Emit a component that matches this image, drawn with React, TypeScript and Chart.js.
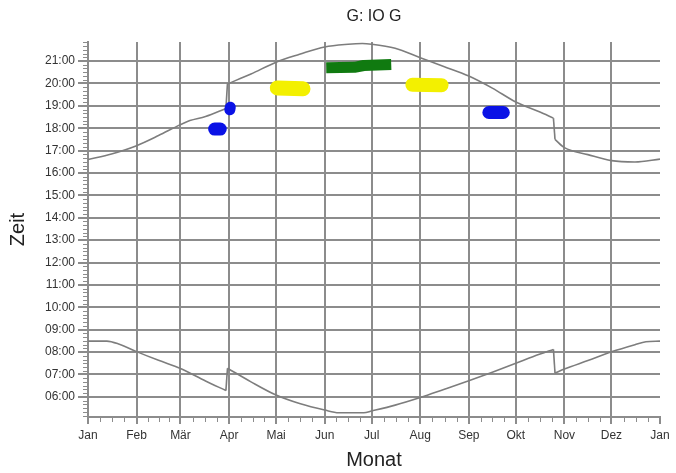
import React, { useEffect, useRef } from "react";
import { Chart, registerables } from "chart.js";

Chart.register(...registerables);

const monthLabels = ["Jan", "Feb", "Mär", "Apr", "Mai", "Jun", "Jul", "Aug", "Sep", "Okt", "Nov", "Dez", "Jan"];
const monthStartDays = [0, 31, 59, 90, 120, 151, 181, 212, 243, 273, 304, 334, 365];
const yTickHours = [6, 7, 8, 9, 10, 11, 12, 13, 14, 15, 16, 17, 18, 19, 20, 21];

// Clock changes (day of year just before / just after the jump)
const dstStartDays = [88, 89];
const dstEndDays = [297, 298];

// Sunset (upper curve)
const sunsetDays = [0, 15, 31, 45, 59, 65, 75, 88, 89, 104, 120, 135, 151, 166, 175, 181, 196, 212, 227, 243, 258, 273, 288, 297, 298, 304, 319, 334, 349, 365];
const sunsetHours = [16.6, 16.85, 17.22, 17.67, 18.16, 18.34, 18.52, 18.88, 19.98, 20.42, 20.95, 21.3, 21.63, 21.75, 21.78, 21.75, 21.57, 21.15, 20.76, 20.33, 19.79, 19.17, 18.73, 18.45, 17.5, 17.13, 16.82, 16.55, 16.49, 16.62];

// Sunrise (lower curve)
const sunriseDays = [0, 12, 20, 31, 45, 59, 75, 88, 89, 104, 120, 135, 151, 160, 176, 181, 196, 212, 227, 243, 258, 273, 288, 297, 298, 304, 319, 334, 349, 356, 365];
const sunriseHours = [8.49, 8.49, 8.35, 8.02, 7.63, 7.27, 6.71, 6.28, 7.28, 6.67, 6.08, 5.7, 5.41, 5.29, 5.29, 5.37, 5.63, 5.97, 6.33, 6.72, 7.1, 7.5, 7.9, 8.12, 7.06, 7.24, 7.62, 8.01, 8.33, 8.46, 8.49];

// Observation marks
const blueMarchDays = [80.8, 84.4];
const blueMarchHours = [17.96, 17.96];
const blueAprilDays = [90.5, 90.8];
const blueAprilHours = [18.82, 18.94];
const yellowMayDays = [120.8, 137.2];
const yellowMayHours = [19.8, 19.76];
const greenJuneDays = [152, 170, 176, 193.5];
const greenJuneHours = [20.7, 20.72, 20.8, 20.84];
const yellowAugDays = [207, 225.6];
const yellowAugHours = [19.94, 19.92];
const blueSepDays = [255.8, 265];
const blueSepHours = [18.7, 18.7];

const Y_MIN = 5.1;
const Y_MAX = 21.85;
const GRID = "#8c8c8c";
const CURVE = "#7d7d7d";
const FONT = "'Liberation Sans', Arial, sans-serif";

const pts = (xs: number[], ys: number[]) => xs.map((x, i) => ({ x, y: ys[i] }));

const minorTicks = {
  id: "minorTicks",
  afterDraw(chart: any) {
    const { ctx, chartArea } = chart;
    const x = chart.scales.x;
    const y = chart.scales.y;
    ctx.save();
    ctx.strokeStyle = GRID;
    ctx.lineWidth = 1;
    ctx.beginPath();
    for (let m = Math.ceil(Y_MIN * 6); m <= Math.floor(Y_MAX * 6); m++) {
      if (m % 6 === 0) continue;
      const py = Math.round(y.getPixelForValue(m / 6)) + 0.5;
      ctx.moveTo(chartArea.left - 5, py);
      ctx.lineTo(chartArea.left, py);
    }
    for (let i = 0; i < monthStartDays.length - 1; i++) {
      const a = monthStartDays[i];
      const b = monthStartDays[i + 1];
      for (let k = 1; k < 4; k++) {
        const d = a + ((b - a) * k) / 4;
        const px = Math.round(x.getPixelForValue(d)) + 0.5;
        ctx.moveTo(px, chartArea.bottom);
        ctx.lineTo(px, chartArea.bottom + 5);
      }
    }
    ctx.stroke();
    ctx.restore();
  },
};

const mark = (xs: number[], ys: number[], color: string, width: number, cap: CanvasLineCap = "round") => ({
  data: pts(xs, ys),
  borderColor: color,
  backgroundColor: color,
  borderWidth: width,
  borderCapStyle: cap,
  borderJoinStyle: "round" as CanvasLineJoin,
  pointRadius: 0,
  tension: 0,
  fill: false,
});

// Split a curve at the clock changes into smooth pieces joined by straight jumps
const curvePieces = (days: number[], hours: number[]) => {
  const all = pts(days, hours);
  const cuts = [dstStartDays[0], dstStartDays[1], dstEndDays[0], dstEndDays[1]].map((d) => days.indexOf(d));
  const bounds = [0, ...cuts, days.length - 1];
  const out: any[] = [];
  for (let i = 0; i < bounds.length - 1; i++) {
    const piece = all.slice(bounds[i], bounds[i + 1] + 1);
    const isJump = i % 2 === 1;
    out.push({
      data: piece,
      borderColor: CURVE,
      borderWidth: 1.6,
      pointRadius: 0,
      tension: 0,
      cubicInterpolationMode: isJump ? "default" : "monotone",
      borderJoinStyle: "round",
      fill: false,
    });
  }
  return out;
};

export default function App() {
  const ref = useRef<HTMLCanvasElement | null>(null);

  useEffect(() => {
    document.body.style.margin = "0";
    const canvas = ref.current;
    if (!canvas) return;
    const chart = new Chart(canvas, {
      type: "line",
      data: {
        datasets: [
          mark(blueMarchDays, blueMarchHours, "#0a12e6", 13),
          mark(blueAprilDays, blueAprilHours, "#0a12e6", 11),
          mark(yellowMayDays, yellowMayHours, "#f3f000", 15),
          mark(greenJuneDays, greenJuneHours, "#107a10", 11, "butt"),
          mark(yellowAugDays, yellowAugHours, "#f3f000", 14),
          mark(blueSepDays, blueSepHours, "#0a12e6", 13),
          ...curvePieces(sunsetDays, sunsetHours),
          ...curvePieces(sunriseDays, sunriseHours),
        ] as any,
      },
      options: {
        animation: false,
        responsive: false,
        maintainAspectRatio: false,
        layout: { padding: { left: 0, right: 16, top: 0, bottom: 0 } },
        plugins: {
          legend: { display: false },
          tooltip: { enabled: false },
          title: {
            display: true,
            text: "G: IO G",
            fullSize: false,
            color: "#222",
            font: { family: FONT, size: 16, weight: "normal" },
            padding: { top: 7, bottom: 15.8 },
          },
        },
        scales: {
          x: {
            type: "linear",
            min: 0,
            max: 365,
            afterBuildTicks: (scale: any) => {
              scale.ticks = monthStartDays.map((v) => ({ value: v }));
            },
            afterFit: (scale: any) => {
              scale.height = 56;
            },
            ticks: {
              autoSkip: false,
              maxRotation: 0,
              padding: 4,
              color: "#333",
              font: { family: FONT, size: 12 },
              callback: (_v: any, i: number) => monthLabels[i],
            },
            grid: {
              color: (c: any) => (c.index === monthStartDays.length - 1 ? "rgba(0,0,0,0)" : GRID),
              tickColor: GRID,
              lineWidth: 2,
              tickLength: 7,
              drawTicks: true,
            },
            border: { display: true, color: GRID, width: 2 },
            title: {
              display: true,
              text: "Monat",
              color: "#222",
              font: { family: FONT, size: 20 },
              padding: { top: 0, bottom: 1 },
            },
          },
          y: {
            type: "linear",
            min: Y_MIN,
            max: Y_MAX,
            afterBuildTicks: (scale: any) => {
              scale.ticks = yTickHours.map((v) => ({ value: v }));
            },
            afterFit: (scale: any) => {
              scale.width = 88;
            },
            ticks: {
              autoSkip: false,
              padding: 3,
              color: "#333",
              font: { family: FONT, size: 12 },
              callback: (v: any) => `${String(v).padStart(2, "0")}:00`,
            },
            grid: {
              color: GRID,
              tickColor: GRID,
              lineWidth: 2,
              tickLength: 10,
            },
            border: { display: true, color: GRID, width: 2 },
            title: {
              display: true,
              text: "Zeit",
              color: "#222",
              font: { family: FONT, size: 20 },
              padding: { top: 6, bottom: 0 },
            },
          },
        },
      },
      plugins: [minorTicks],
    });
    return () => chart.destroy();
  }, []);

  return (
    <div style={{ width: 676, height: 473 }}>
      <canvas ref={ref} width={676} height={473} style={{ display: "block" }} />
    </div>
  );
}
